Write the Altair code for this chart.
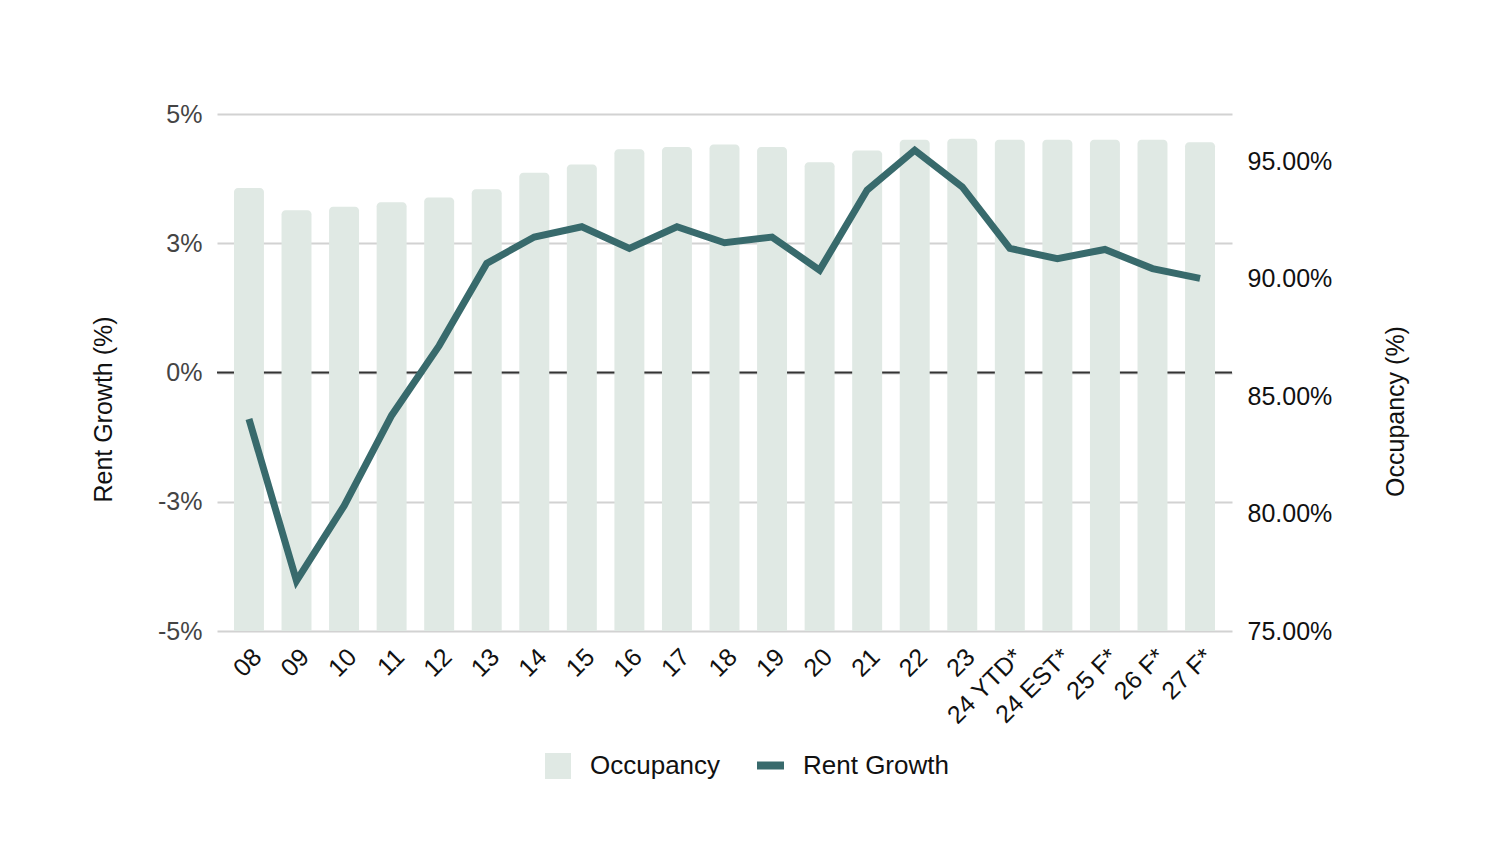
import altair as alt
import pandas as pd

FONT = "Liberation Sans"
BAR = "#e0e9e4"
LINE = "#386a6c"

years = ["08", "09", "10", "11", "12", "13", "14", "15", "16", "17", "18", "19",
         "20", "21", "22", "23", "24 YTD*", "24 EST*", "25 F*", "26 F*", "27 F*"]
occupancy = [93.85, 92.9, 93.05, 93.25, 93.45, 93.8, 94.5, 94.85, 95.5, 95.6, 95.7,
             95.6, 94.95, 95.45, 95.9, 95.95, 95.9, 95.9, 95.9, 95.9, 95.8]
rent_growth = [-0.9, -4.03, -2.58, -0.83, 0.52, 2.11, 2.62, 2.82, 2.40, 2.82, 2.51,
               2.62, 1.98, 3.53, 4.30, 3.59, 2.40, 2.20, 2.38, 2.01, 1.82]
zero_line = [0]

left_ticks = [-5, -2.5, 0, 2.5, 5]
left_labels = ["-5%", "-3%", "0%", "3%", "5%"]
right_ticks = [75, 80, 85, 90, 95]

df = pd.DataFrame({"year": years, "occ": occupancy, "rent": rent_growth})
df["s_occ"] = "Occupancy"
df["s_rent"] = "Rent Growth"
zero_df = pd.DataFrame({"z": zero_line})

left_expr = "[" + ",".join("'%s'" % s for s in left_labels) + "][indexof([" + \
    ",".join(str(v) for v in left_ticks) + "], datum.value)]"

x_enc = alt.X("year:N", sort=years,
              scale=alt.Scale(paddingInner=0.37, paddingOuter=0.357),
              axis=alt.Axis(title=None, labelAngle=-45, domain=False, ticks=False,
                            grid=False,
                            labelFontSize=25, labelColor="#111", labelPadding=13,
                            labelFont=FONT))

rule = alt.Chart(zero_df).mark_rule(color="#333333", strokeWidth=2).encode(
    y=alt.Y("z:Q", scale=alt.Scale(domain=[-5, 5], nice=False, zero=False), axis=None)
)

bars = alt.Chart(df).mark_bar(cornerRadiusTopLeft=4, cornerRadiusTopRight=4).encode(
    x=x_enc,
    y=alt.Y("occ:Q", scale=alt.Scale(domain=[75, 97], nice=False, zero=False),
            axis=alt.Axis(orient="right", values=right_ticks,
                          labelExpr="format(datum.value, '.2f') + '%'",
                          grid=False, domain=False, ticks=False,
                          labelFontSize=25, labelColor="#111", labelPadding=15,
                          labelFont=FONT,
                          title="Occupancy (%)", titleFontSize=25, titleFont=FONT,
                          titleFontWeight="normal", titleColor="#111",
                          titleAngle=270, titleX=163, titleY=297,
                          titleBaseline="middle", titleAlign="center")),
    y2=alt.datum(75),
    color=alt.Color("s_occ:N", scale=alt.Scale(domain=["Occupancy"], range=[BAR]),
                    legend=alt.Legend(title=None, orient="none", legendX=328, legendY=639,
                                      symbolType="square", symbolSize=676,
                                      symbolStrokeWidth=0, labelOffset=19, padding=0,
                                      labelFontSize=26, labelFont=FONT, labelColor="#111")),
)

line = alt.Chart(df).mark_line(strokeWidth=7).encode(
    x=x_enc,
    y=alt.Y("rent:Q", scale=alt.Scale(domain=[-5, 5], nice=False, zero=False),
            axis=alt.Axis(orient="left", values=left_ticks, labelExpr=left_expr,
                          grid=True, gridColor="#d2d2d2", gridWidth=2,
                          domain=False, ticks=False,
                          labelFontSize=25, labelColor="#444", labelPadding=15,
                          labelFont=FONT,
                          title="Rent Growth (%)", titleFontSize=25, titleFont=FONT,
                          titleFontWeight="normal", titleColor="#111",
                          titleAngle=270, titleX=-114, titleY=295,
                          titleBaseline="middle", titleAlign="center")),
    stroke=alt.Stroke("s_rent:N", scale=alt.Scale(domain=["Rent Growth"], range=[LINE]),
                      legend=alt.Legend(title=None, orient="none", legendX=536, legendY=634,
                                        symbolType="stroke", symbolSize=729,
                                        symbolStrokeWidth=8, labelOffset=15, padding=0,
                                        labelFontSize=26, labelFont=FONT, labelColor="#111")),
)

chart = alt.layer(rule, bars, line).resolve_scale(y="independent").properties(
    width=1015, height=517,
    autosize=alt.AutoSizeParams(type="none"),
    padding={"left": 209, "top": 106, "right": 254, "bottom": 215},
).configure(font=FONT).configure_view(stroke=None, strokeWidth=0)

chart.save("out.html", embed_options={"renderer": "svg", "actions": False})
